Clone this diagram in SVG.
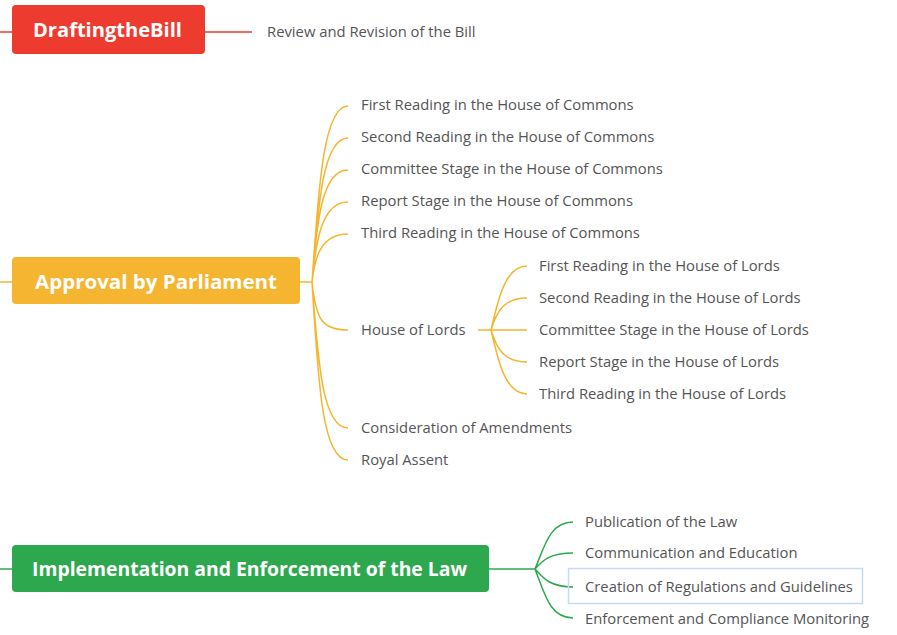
<svg xmlns="http://www.w3.org/2000/svg" width="897" height="635" viewBox="0 0 897 635">
<style>
.t{font-family:"Open Sans","Noto Sans","Liberation Sans",sans-serif;font-size:14.8px;fill:#555;}
.h{font-family:"Open Sans","Noto Sans","Liberation Sans",sans-serif;font-size:20px;font-weight:bold;fill:#fff;}
.r{stroke:#EE3B30;fill:none;stroke-width:1.5}
.o{stroke:#F5B530;fill:none;stroke-width:1.5}
.g{stroke:#2EA84E;fill:none;stroke-width:1.5}
</style>
<rect width="897" height="635" fill="#fff"/>
<g id="connectors">
<path class="r" d="M0 32H12"/>
<path class="r" d="M205 32H252" stroke-width="1"/>
<path class="o" d="M0 282H12M300 282H312"/>
<path class="o" d="M312 282C318 200 322 106 348 106M312 282C318 210 322 138 348 138M312 282C317 220 322 170 348 170M312 282C316 240 322 202 348 202M312 282C315 255 322 234 348 234M312 282C316 320 322 330 348 330M312 282C318 360 322 428 348 428M312 282C318 380 322 460 348 460"/>
<path class="o" d="M478 330H491M491 330C498 300 505 266 527 266M491 330C497 310 505 298 527 298M491 330H527M491 330C497 350 505 362 527 362M491 330C498 360 505 394 527 394"/>
<path class="g" d="M0 569H12M489 569H535M535 569C545 545 550 522 573 522M535 569C543 560 550 553 573 553M535 569C543 578 550 587 573 587M535 569C545 595 550 618 573 618"/>
</g>
<g id="drafting">
<rect x="12" y="5" width="193" height="49" rx="4" fill="#EE3B30"/>
<text class="h" x="33" y="37" textLength="149" lengthAdjust="spacingAndGlyphs">DraftingtheBill</text>
</g>
<g id="review"><text class="t" x="267" y="37">Review and Revision of the Bill</text></g>
<g id="approval">
<rect x="12" y="257" width="288" height="47" rx="4" fill="#F5B530"/>
<text class="h" x="35" y="289" textLength="242" lengthAdjust="spacingAndGlyphs">Approval by Parliament</text>
</g>
<g id="c1"><text class="t" x="361" y="110">First Reading in the House of Commons</text></g>
<g id="c2"><text class="t" x="361" y="142">Second Reading in the House of Commons</text></g>
<g id="c3"><text class="t" x="361" y="174">Committee Stage in the House of Commons</text></g>
<g id="c4"><text class="t" x="361" y="206">Report Stage in the House of Commons</text></g>
<g id="c5"><text class="t" x="361" y="238">Third Reading in the House of Commons</text></g>
<g id="lords"><text class="t" x="361" y="335">House of Lords</text></g>
<g id="l1"><text class="t" x="539" y="271">First Reading in the House of Lords</text></g>
<g id="l2"><text class="t" x="539" y="303">Second Reading in the House of Lords</text></g>
<g id="l3"><text class="t" x="539" y="335">Committee Stage in the House of Lords</text></g>
<g id="l4"><text class="t" x="539" y="367">Report Stage in the House of Lords</text></g>
<g id="l5"><text class="t" x="539" y="399">Third Reading in the House of Lords</text></g>
<g id="amend"><text class="t" x="361" y="433">Consideration of Amendments</text></g>
<g id="assent"><text class="t" x="361" y="465">Royal Assent</text></g>
<g id="impl">
<rect x="12" y="545" width="477" height="47" rx="4" fill="#2EA84E"/>
<text class="h" x="32" y="576" textLength="435" lengthAdjust="spacingAndGlyphs">Implementation and Enforcement of the Law</text>
</g>
<g id="i1"><text class="t" x="585" y="527">Publication of the Law</text></g>
<g id="i2"><text class="t" x="585" y="558">Communication and Education</text></g>
<g id="i3">
<rect x="568.5" y="568.5" width="294" height="35" fill="none" stroke="#C7DAF3" stroke-width="1.5"/>
<text class="t" x="585" y="592">Creation of Regulations and Guidelines</text>
</g>
<g id="i4"><text class="t" x="585" y="624">Enforcement and Compliance Monitoring</text></g>
</svg>
